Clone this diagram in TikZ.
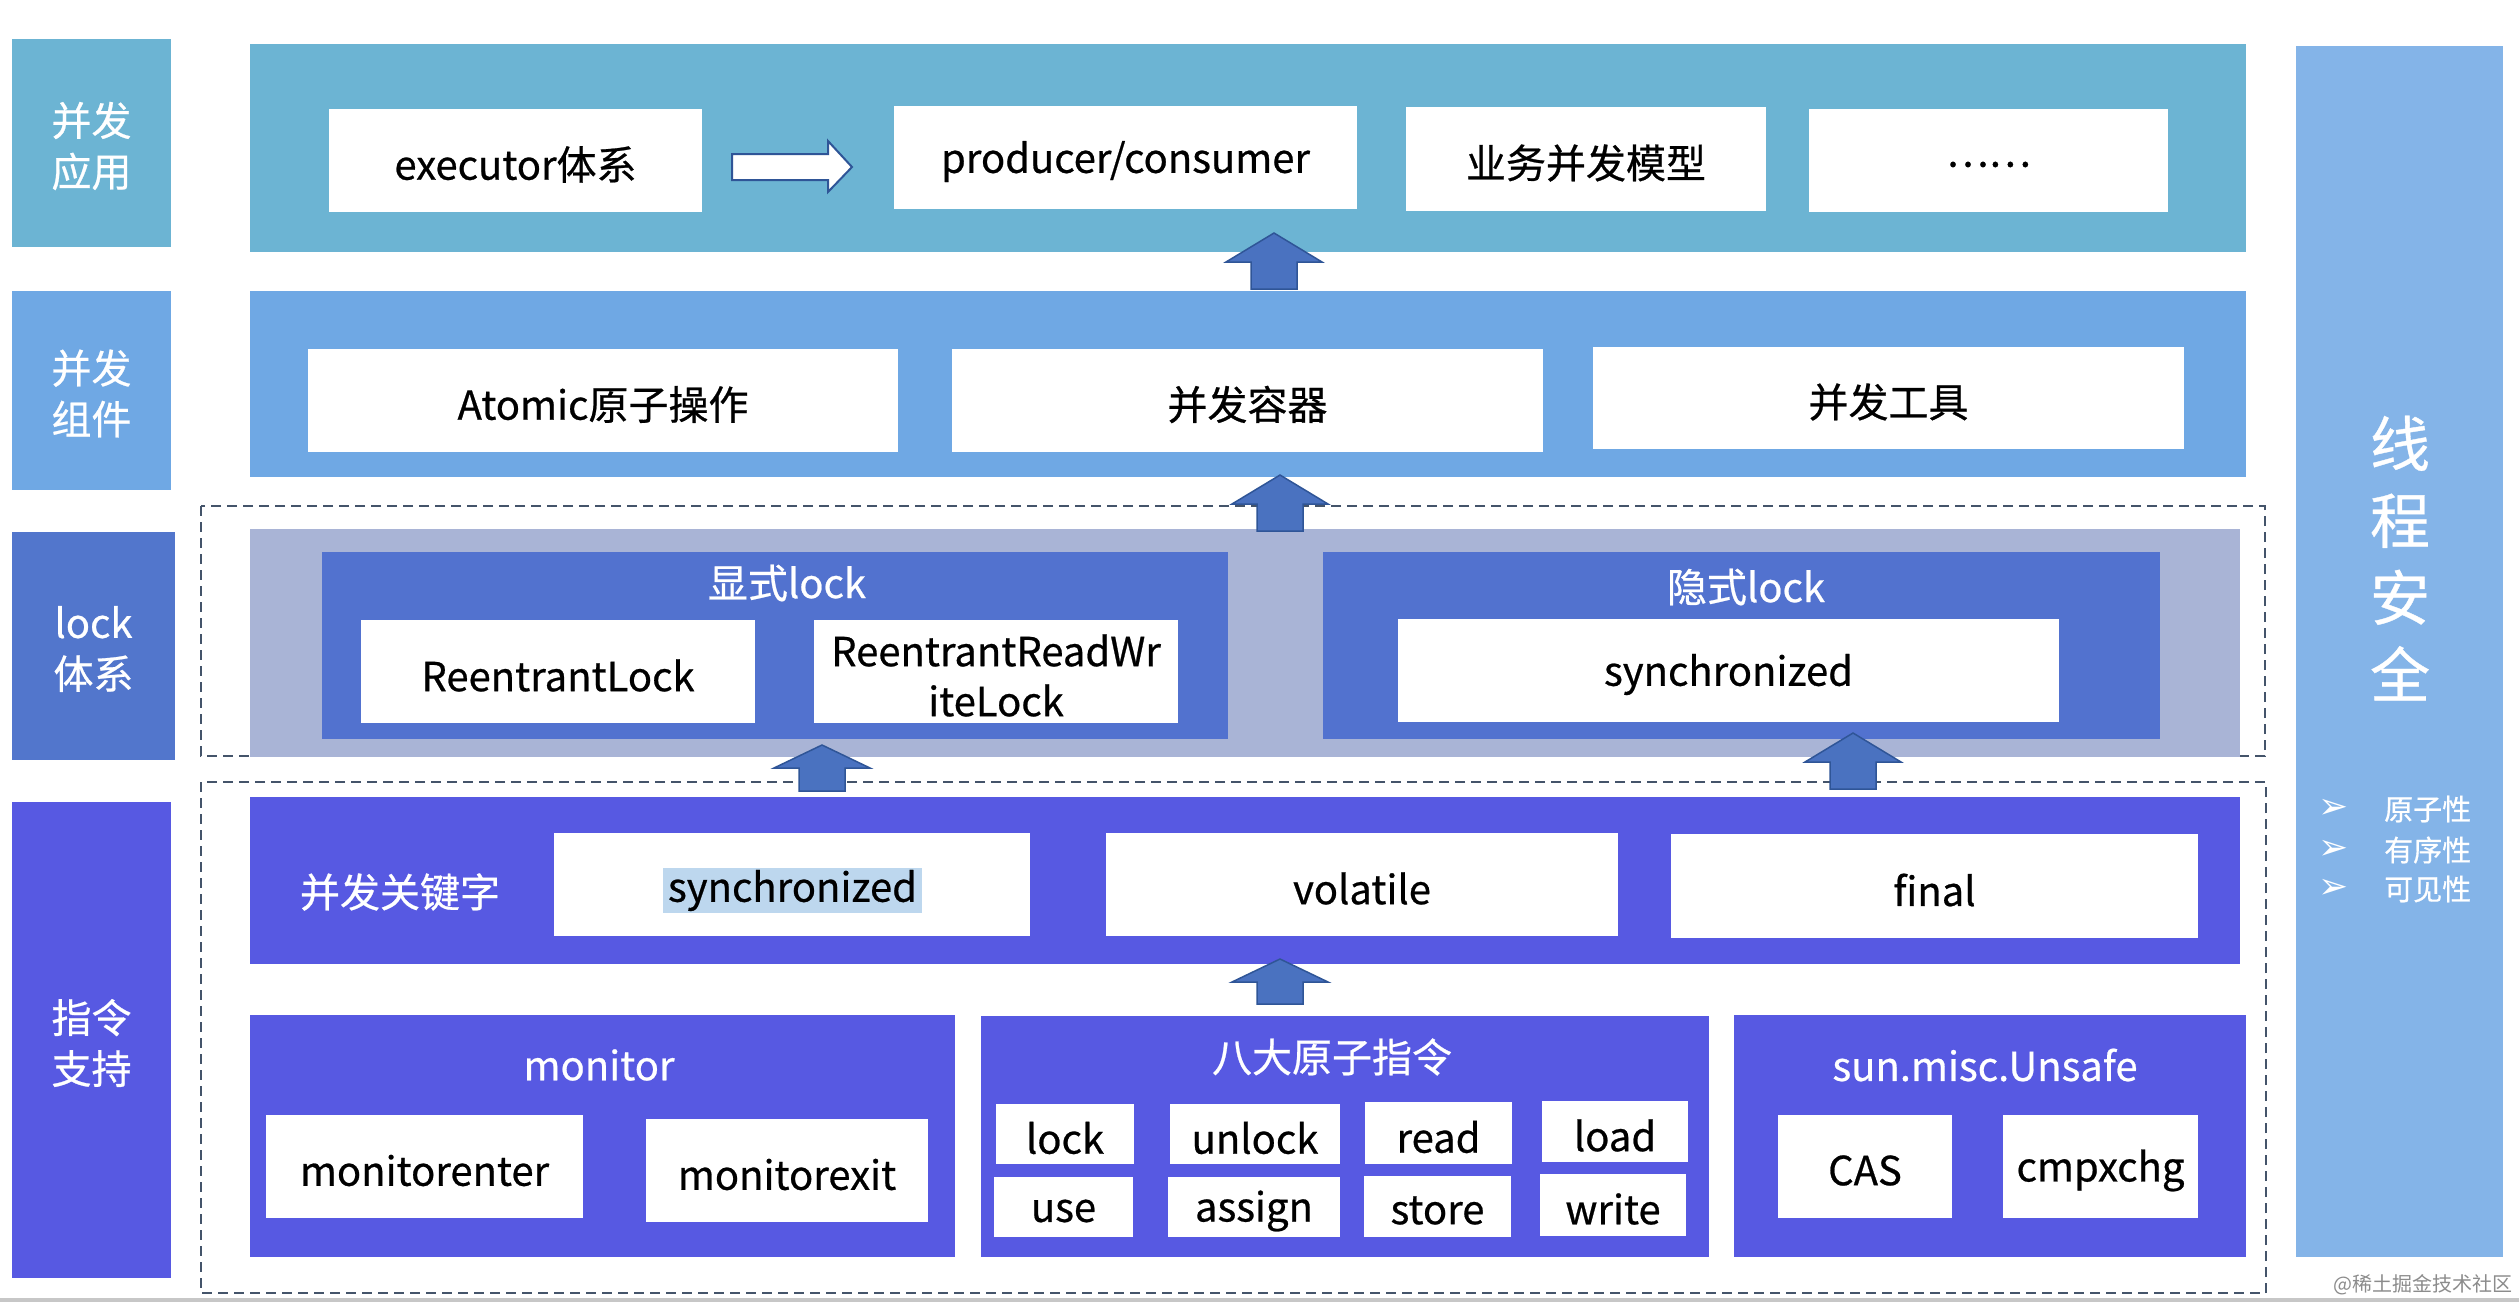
\documentclass[tikz,border=0pt]{standalone}
\usepackage{fontspec}
\setmainfont{Noto Sans CJK SC}
\newfontfamily\boldish{Noto Sans CJK SC}[FakeBold=0.6]
\newfontfamily\dvfont{DejaVu Sans}
\usetikzlibrary{fit}
\definecolor{appC}{HTML}{6CB4D3}
\definecolor{compC}{HTML}{6FA8E4}
\definecolor{lockL}{HTML}{5276CC}
\definecolor{lockIn}{HTML}{5272CF}
\definecolor{lockG}{HTML}{A9B4D6}
\definecolor{insC}{HTML}{5759E2}
\definecolor{sideC}{HTML}{84B4E8}
\definecolor{arrF}{HTML}{4A72C0}
\definecolor{arrD}{HTML}{2F5597}
\definecolor{dashC}{HTML}{44546A}
\definecolor{hlC}{HTML}{BDD7EE}
% box with centred text: name, fit corners, fill, text style, text
\newcommand\txtbox[5]{%
  \node[blk, fill=#3, fit={#2}] (#1) {};
  \node[#4] (#1t) at (#1.center) {#5};}
\begin{document}
\begin{tikzpicture}[x=1pt,y=-1pt,
  blk/.style={inner sep=0pt, outer sep=0pt, draw=none},
  lbltxt/.style={inner sep=0pt, text=white, align=center, font=\boldish\fontsize{40}{51}\selectfont, yshift=-3pt},
  boxtxt/.style={inner sep=0pt, text=black, align=center, font=\boldish\fontsize{40}{50}\selectfont, yshift=-4pt},
  ttl/.style={inner sep=0pt, text=white, font=\boldish\fontsize{40}{48}\selectfont},
  dashbox/.style={draw=dashC, line width=2.5pt, dash pattern=on 10pt off 6pt},
  blockarrow/.style={fill=arrF, draw=arrD, line width=1.5pt, line join=miter},
  hollowarrow/.style={fill=white, draw=arrD, line width=2pt, line join=miter}]
\useasboundingbox (0,0) rectangle (2519,1302);
\fill[white] (0,0) rectangle (2519,1302);
\fill[black!22] (0,1298) rectangle (2519,1302);

% dashed frames
\draw[dashbox] (201,506) rectangle (2265,756);
\draw[dashbox] (201,782) rectangle (2266,1293);

% left labels
\txtbox{lApp}{(12,39) (171,247)}{appC}{lbltxt}{并发\\应用}
\txtbox{lComp}{(12,291) (171,490)}{compC}{lbltxt}{并发\\组件}
\txtbox{lLock}{(12,532) (175,760)}{lockL}{lbltxt}{lock\\体系}
\txtbox{lIns}{(12,802) (171,1278)}{insC}{lbltxt}{指令\\支持}

% right side panel
\node[blk, fill=sideC, fit={(2296,46) (2503,1257)}] (side) {};
\node[ttl, font=\boldish\fontsize{60}{77}\selectfont, align=center] (safe) at (2400,558) {线\\程\\安\\全};
\foreach \y/\t [count=\i] in {809/原子性, 850/有序性, 889/可见性}{
  \node[ttl, font=\dvfont\fontsize{36}{36}\selectfont] (bm\i) at (2334,\y) {➢};
  \node[ttl, anchor=west, font=\boldish\fontsize{29}{29}\selectfont] (bt\i) at (2384,\y) {\t};
}

% layer 1: applications
\node[blk, fill=appC, fit={(250,44) (2246,252)}] (app) {};
\txtbox{exe}{(329,109) (702,212)}{white}{boxtxt}{executor体系}
\txtbox{prod}{(894,106) (1357,209)}{white}{boxtxt}{producer/consumer}
\txtbox{biz}{(1406,107) (1766,211)}{white}{boxtxt}{业务并发模型}
\txtbox{etc}{(1809,109) (2168,212)}{white}{boxtxt}{……}
\draw[hollowarrow] (732,154) -- (828,154) -- (828,141) -- (852,167) -- (828,192) -- (828,180) -- (732,180) -- cycle;

% layer 2: components
\node[blk, fill=compC, fit={(250,291) (2246,477)}] (comp) {};
\txtbox{atom}{(308,349) (898,452)}{white}{boxtxt}{Atomic原子操作}
\txtbox{cont}{(952,349) (1543,452)}{white}{boxtxt}{并发容器}
\txtbox{tool}{(1593,347) (2184,449)}{white}{boxtxt}{并发工具}

% layer 3: locks
\node[blk, fill=lockG, fit={(250,529) (2240,757)}] (lockg) {};
\node[blk, fill=lockIn, fit={(322,552) (1228,739)}] (expl) {};
\node[ttl] (explT) at (787,583) {显式lock};
\txtbox{rl}{(361,620) (755,723)}{white}{boxtxt}{ReentrantLock}
\txtbox{rrwl}{(814,620) (1178,723)}{white}{boxtxt}{ReentrantReadWr\\iteLock}
\node[blk, fill=lockIn, fit={(1323,552) (2160,739)}] (impl) {};
\node[ttl] (implT) at (1746,587) {隐式lock};
\txtbox{sync2}{(1398,619) (2059,722)}{white}{boxtxt}{synchronized}

% layer 4: keywords
\node[blk, fill=insC, fit={(250,797) (2240,964)}] (kw) {};
\node[ttl] (kwT) at (400,892) {并发关键字};
\node[blk, fill=white, fit={(554,833) (1030,936)}] (sync1) {};
\node[blk, fill=hlC, minimum width=259pt, minimum height=45pt, font=\boldish\fontsize{40}{50}\selectfont] (sync1t) at (792.5,890.5) {synchronized};
\txtbox{vol}{(1106,833) (1618,936)}{white}{boxtxt}{volatile}
\txtbox{fin}{(1671,834) (2198,938)}{white}{boxtxt}{final}

% layer 5: instructions
\node[blk, fill=insC, fit={(250,1015) (955,1257)}] (mon) {};
\node[ttl] (monT) at (599,1065) {monitor};
\txtbox{menter}{(266,1115) (583,1218)}{white}{boxtxt}{monitorenter}
\txtbox{mexit}{(646,1119) (928,1222)}{white}{boxtxt}{monitorexit}

\node[blk, fill=insC, fit={(981,1016) (1709,1257)}] (eight) {};
\node[ttl] (eightT) at (1332,1057) {八大原子指令};
\txtbox{iLock}{(996,1104) (1134,1164)}{white}{boxtxt}{lock}
\txtbox{iUnlock}{(1170,1104) (1340,1164)}{white}{boxtxt}{unlock}
\txtbox{iRead}{(1365,1102) (1512,1164)}{white}{boxtxt}{read}
\txtbox{iLoad}{(1542,1101) (1688,1162)}{white}{boxtxt}{load}
\txtbox{iUse}{(994,1177) (1133,1237)}{white}{boxtxt}{use}
\txtbox{iAssign}{(1168,1177) (1340,1237)}{white}{boxtxt}{assign}
\txtbox{iStore}{(1364,1176) (1511,1237)}{white}{boxtxt}{store}
\txtbox{iWrite}{(1540,1174) (1686,1236)}{white}{boxtxt}{write}

\node[blk, fill=insC, fit={(1734,1015) (2246,1257)}] (unsafe) {};
\node[ttl] (unsafeT) at (1985,1065) {sun.misc.Unsafe};
\txtbox{cas}{(1778,1115) (1952,1218)}{white}{boxtxt}{CAS}
\txtbox{cmp}{(2003,1115) (2198,1218)}{white}{boxtxt}{cmpxchg}

% block arrows between layers
\foreach \cx/\tip/\base/\bot in {1274/233/262/289, 1280/475/504/531, 822/745/768/791, 1853/733/762/789, 1280/959/982/1004}{
  \draw[blockarrow] (\cx,\tip) -- (\cx+48,\base) -- (\cx+23,\base) -- (\cx+23,\bot) -- (\cx-23,\bot) -- (\cx-23,\base) -- (\cx-48,\base) -- cycle;
}

% watermark
\node[inner sep=0pt, text=black!45, font=\fontsize{20}{20}\selectfont, anchor=east] (wm) at (2513,1285) {@稀土掘金技术社区};
\end{tikzpicture}
\end{document}
